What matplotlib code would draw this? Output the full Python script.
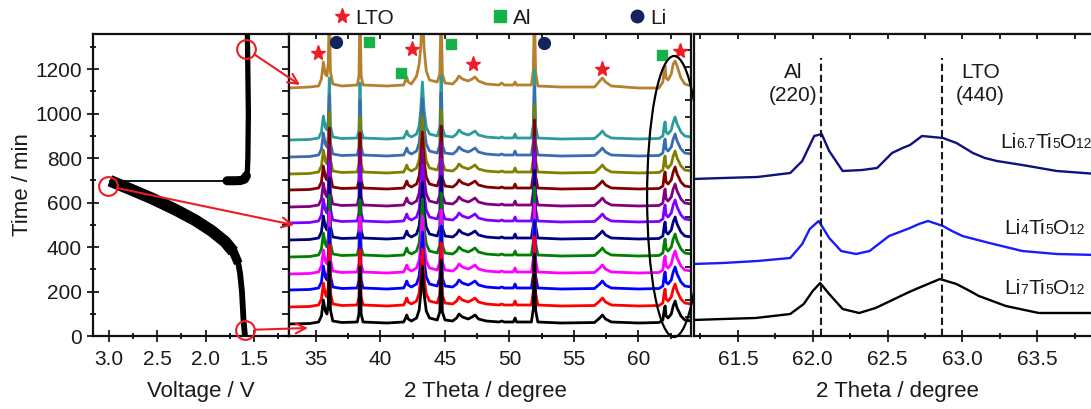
import matplotlib
matplotlib.use('Agg')
import matplotlib.pyplot as plt
from matplotlib.patches import Ellipse, ConnectionPatch
from matplotlib.lines import Line2D
from matplotlib.offsetbox import TextArea, HPacker, AnnotationBbox
from matplotlib.ticker import MultipleLocator, FormatStrFormatter

plt.rcParams['font.family'] = ['Liberation Sans', 'DejaVu Sans']
plt.rcParams['text.color'] = '#1a1a1a'

# ---------------- data: left panel (voltage profile) ----------------
volt_discharge = [1.595, 1.61, 1.626, 1.645, 1.664, 1.715, 1.80, 1.94, 2.11, 2.317, 2.557, 2.80, 2.987]
time_discharge = [0, 72, 199, 280, 327, 379, 424, 473, 521, 569, 619, 664, 698]
volt_relax = [2.987, 1.78]
time_relax = [698, 698]
volt_charge = [1.78, 1.70, 1.64, 1.60, 1.58, 1.57, 1.565, 1.56, 1.57]
time_charge = [698, 698, 699, 705, 720, 745, 800, 1000, 1360]

circle_volt = [1.58, 3.01, 1.59]
circle_time = [1290, 674, 27]
arrow_end_theta = [33.76, 33.29, 34.38]
arrow_end_y = [251, 111, 8]

# ---------------- data: middle panel (XRD patterns) ----------------
theta_pts = [32.9, 34.5, 35.2, 35.42, 35.57, 35.72, 35.85, 35.95, 36.03, 36.12, 36.3, 37.0,
             38.2, 38.33, 38.41, 38.5, 38.65, 40.5, 41.8, 41.95, 42.04, 42.15, 42.4, 42.8,
             43.0, 43.12, 43.25, 43.38, 43.55, 43.8, 44.4, 44.6, 44.7, 44.8, 45.0, 45.6,
             45.9, 46.09, 46.35, 46.8, 47.1, 47.33, 47.6, 48.2, 49.2, 49.4, 49.6, 50.3,
             50.44, 50.55, 51.7, 51.85, 51.94, 52.03, 52.2, 54.0, 56.6, 57.0, 57.21, 57.45,
             57.9, 60.0, 61.6, 61.9, 62.0, 62.07, 62.15, 62.3, 62.55, 62.7, 62.85, 63.0,
             63.3, 63.6, 64.1]
lower_intensity = [0, 0.5, 2, 8, 24, 13, 10, 20, 62, 14, 3, 1.5,
                   2, 10, 57, 10, 2, 1, 2, 6, 9, 5, 3, 6,
                   14, 30, 58, 30, 13, 6, 4, 12, 64, 12, 4, 3,
                   6, 10, 7, 5, 7, 9, 5, 3, 2, 3, 2, 2,
                   6, 2, 2, 15, 70, 14, 2, 1, 1.5, 6, 9, 5,
                   2, 1, 1.5, 4, 14, 18, 8, 6, 10, 18, 23, 16,
                   8, 4, 3]
top_intensity = [0, 1, 2, 9, 26, 14, 12, 25, 80, 16, 4, 2,
                 3, 12, 80, 12, 3, 2, 3, 8, 11, 6, 4, 12,
                 24, 40, 80, 40, 17, 8, 6, 14, 80, 14, 5, 4,
                 8, 12, 9, 7, 9, 11, 7, 4, 3, 5, 3, 3,
                 6, 3, 3, 18, 80, 16, 2, 1, 1, 7, 10, 6,
                 2, 0, 0, 6, 18, 22, 10, 8, 14, 24, 27, 22,
                 10, 4, 2]
lower_offsets = [12, 29, 46, 62, 79, 96, 113, 129, 146, 162, 179, 196]
lower_colors = ['#000000', '#ff0000', '#0000ff', '#ff00ff', '#008000', '#000080',
                '#8000ff', '#800080', '#800000', '#808000', '#3a6db0', '#2b9b9b']
top_offset = 248
top_color = '#b5812e'

lto_theta = [35.13, 42.42, 47.16, 57.21, 63.19]
lto_y = [283, 287, 272, 267, 285]
al_theta = [39.13, 41.57, 45.45, 61.82]
al_y = [294, 263, 292, 281]
li_theta = [36.53, 52.69]
li_y = [294, 293]
legend_labels = ['LTO', 'Al', 'Li']

# ---------------- data: right panel (zoom 61.2-63.9) ----------------
navy_theta = [61.2, 61.4, 61.63, 61.85, 61.93, 62.01, 62.06, 62.11, 62.2, 62.33, 62.43,
              62.53, 62.6, 62.65, 62.73, 62.8, 62.87, 62.96, 63.07, 63.15, 63.23, 63.4, 63.63, 63.9]
navy_y = [157, 158, 159, 163, 175, 200, 202, 185, 165, 166, 168,
          183, 188, 191, 200, 199, 198, 193, 183, 178, 175, 171, 165, 162]
blue_theta = [61.2, 61.4, 61.63, 61.85, 61.93, 61.98, 62.04, 62.11, 62.19, 62.29,
              62.38, 62.51, 62.58, 62.65, 62.71, 62.77, 62.87, 62.93, 63.0, 63.18, 63.4, 63.63, 63.9]
blue_y = [72, 73, 75, 78, 92, 107, 115, 98, 85, 82,
          85, 100, 104, 108, 112, 115, 110, 105, 100, 93, 85, 82, 81]
black_theta = [61.2, 61.4, 61.62, 61.85, 61.94, 62.0, 62.05, 62.11, 62.2, 62.31,
               62.42, 62.56, 62.63, 62.69, 62.77, 62.85, 62.96, 63.05, 63.11, 63.29, 63.51, 63.9]
black_y = [16, 17, 18, 22, 32, 45, 53, 42, 27, 23,
           28, 38, 43, 47, 52, 57, 52, 45, 40, 30, 23, 23]
peak_lines = [62.055, 62.865]
formula_parts = [[('Li', 0), ('6.7', 1), ('Ti', 0), ('5', 1), ('O', 0), ('12', 1)],
                 [('Li', 0), ('4', 1), ('Ti', 0), ('5', 1), ('O', 0), ('12', 1)],
                 [('Li', 0), ('7', 1), ('Ti', 0), ('5', 1), ('O', 0), ('12', 1)]]
formula_x = [63.25, 63.28, 63.28]
formula_y = [194, 107, 47]

RED = '#ee1c24'
GREEN = '#17b14c'
NAVY = '#14235e'
TXT = '#1a1a1a'

W, H = 1091, 409
fig = plt.figure(figsize=(W / 100, H / 100), dpi=100)


def box(x0, x1, ytop, ybot):
    return [x0 / W, 1 - ybot / H, (x1 - x0) / W, (ybot - ytop) / H]


ax1 = fig.add_axes(box(93, 289, 33.5, 336))
ax2 = fig.add_axes(box(289, 691, 33.5, 336))
ax3 = fig.add_axes(box(694, 1100, 33.5, 336))

for ax in (ax1, ax2, ax3):
    for s in ax.spines.values():
        s.set_linewidth(1.6)
        s.set_color('#111111')

# ---------------- left panel ----------------
ax1.plot(volt_discharge, time_discharge, color='black', lw=4.2, solid_capstyle='butt', zorder=3)
ax1.plot(volt_discharge[4:], time_discharge[4:], color='black', lw=6.5, solid_capstyle='butt',
         solid_joinstyle='round', zorder=3)
ax1.plot(volt_discharge[5:], time_discharge[5:], color='black', lw=8.5, solid_capstyle='butt',
         solid_joinstyle='round', zorder=3)
ax1.plot(volt_relax, time_relax, color='black', lw=1.3, zorder=3)
ax1.plot(volt_charge, time_charge, color='black', lw=3.8, zorder=3)
ax1.plot(volt_charge[:5], time_charge[:5], color='black', lw=6.5, solid_capstyle='round',
         solid_joinstyle='round', zorder=3)
ax1.set_xlim(3.162, 1.141)
ax1.set_ylim(0, 1360)
ax1.xaxis.set_major_locator(MultipleLocator(0.5))
ax1.xaxis.set_minor_locator(MultipleLocator(0.25))
ax1.xaxis.set_major_formatter(FormatStrFormatter('%.1f'))
ax1.yaxis.set_major_locator(MultipleLocator(200))
ax1.yaxis.set_minor_locator(MultipleLocator(100))
ax1.tick_params(which='major', direction='inout', length=8, width=1.3, labelsize=15, pad=4, colors=TXT)
ax1.tick_params(which='minor', direction='inout', length=5, width=1.2)
ax1.tick_params(axis='x', which='major', pad=6)
ax1.set_xlabel('Voltage / V', fontsize=16, color=TXT)
ax1.xaxis.set_label_coords(0.551, -0.15)
ax1.set_ylabel('Time / min', fontsize=16, color=TXT)
ax1.yaxis.set_label_coords(-0.305, 0.5)

ax1r = ax1.twinx()
ax1r.set_ylim(0, 1360)
ax1r.yaxis.set_major_locator(MultipleLocator(100))
ax1r.tick_params(direction='in', length=5, width=1.2, labelright=False)
for s in ax1r.spines.values():
    s.set_visible(False)

# ---------------- middle panel ----------------
for off, col in list(zip(lower_offsets, lower_colors))[::-1]:
    ax2.plot(theta_pts, [off + v for v in lower_intensity], color=col, lw=2.0, zorder=2)
ax2.plot(theta_pts, [top_offset + v for v in top_intensity], color=top_color, lw=2.0, zorder=1)
ax2.set_xlim(32.905, 64.08)
ax2.set_ylim(0, 302.5)
ax2.xaxis.set_major_locator(MultipleLocator(5))
ax2.xaxis.set_minor_locator(MultipleLocator(2.5))
ax2.tick_params(axis='x', which='major', direction='inout', length=8.5, width=1.3, labelsize=15, pad=6, colors=TXT)
ax2.tick_params(axis='x', which='minor', direction='inout', length=4.5, width=1.2)
ax2.yaxis.tick_right()
ax2.set_yticks([286, 269, 236, 219, 186, 169, 136, 119, 86, 69, 36, 19])
ax2.tick_params(axis='y', direction='in', length=4, width=1.2, labelright=False)
sec2 = ax2.secondary_xaxis('top')
sec2.xaxis.set_major_locator(MultipleLocator(2.5))
sec2.tick_params(direction='in', length=4, width=1.2, labeltop=False)
ax2.set_xlabel('2 Theta / degree', fontsize=16, color=TXT)
ax2.xaxis.set_label_coords(0.488, -0.15)

ax2.plot(lto_theta, lto_y, ls='none', marker='*', ms=11, color=RED, mec=RED, clip_on=False, zorder=6)
ax2.plot(al_theta, al_y, ls='none', marker='s', ms=7.5, color=GREEN, mec=GREEN, clip_on=False, zorder=6)
ax2.plot(li_theta, li_y, ls='none', marker='o', ms=8.5, color=NAVY, mec=NAVY, clip_on=False, zorder=6)

ell = Ellipse((62.77, 139.5), width=4.19, height=281, fill=False, ec='black', lw=1.6,
              clip_on=False, zorder=7)
ax2.add_patch(ell)

handles = [Line2D([], [], ls='none', marker='*', ms=11, color=RED),
           Line2D([], [], ls='none', marker='s', ms=8, color=GREEN),
           Line2D([], [], ls='none', marker='o', ms=9, color=NAVY)]
fig.legend(handles, legend_labels, loc='center left', bbox_to_anchor=(333.7 / W, 1 - 18 / H),
           ncol=3, frameon=False, fontsize=15, handlelength=0.8, handletextpad=0.25,
           columnspacing=4.65, borderpad=0, borderaxespad=0)

# ---------------- circles & arrows ----------------
for v, t, xe, ye in zip(circle_volt, circle_time, arrow_end_theta, arrow_end_y):
    ax1.plot([v], [t], ls='none', marker='o', ms=13.5, mfc='none', mec=RED, mew=1.5,
             clip_on=False, zorder=8)
    cp = ConnectionPatch(xyA=(v, t), coordsA=ax1.transData, xyB=(xe, ye), coordsB=ax2.transData,
                         arrowstyle='->,head_length=0.6,head_width=0.3', shrinkA=6.8, shrinkB=0,
                         color=RED, lw=1.5, mutation_scale=12, zorder=9)
    fig.add_artist(cp)

# ---------------- right panel ----------------
ax3.plot(navy_theta, navy_y, color='#101080', lw=1.7)
ax3.plot(blue_theta, blue_y, color='#1a1aff', lw=1.7)
ax3.plot(black_theta, black_y, color='black', lw=1.7)
for xv in peak_lines:
    ax3.plot([xv, xv], [0, 278], color='#1a1a1a', lw=1.5, ls=(0, (3.5, 1.8)))
ax3.set_xlim(61.207, 63.919)
ax3.set_ylim(0, 302.5)
ax3.set_yticks([])
ax3.xaxis.set_major_locator(MultipleLocator(0.5))
ax3.xaxis.set_minor_locator(MultipleLocator(0.25))
ax3.xaxis.set_major_formatter(FormatStrFormatter('%.1f'))
ax3.tick_params(axis='x', which='major', direction='inout', length=8.5, width=1.3, labelsize=15, pad=6, colors=TXT)
ax3.tick_params(axis='x', which='minor', direction='inout', length=5, width=1.2)
sec3 = ax3.secondary_xaxis('top')
sec3.xaxis.set_major_locator(MultipleLocator(0.25))
sec3.tick_params(direction='in', length=4, width=1.2, labeltop=False)
ax3.set_xlabel('2 Theta / degree', fontsize=16, color=TXT)
ax3.xaxis.set_label_coords(0.502, -0.15)
ax3.text(61.87, 252, 'Al\n(220)', ha='center', va='center', fontsize=15, linespacing=1.25, color=TXT)
ax3.text(63.12, 252, 'LTO\n(440)', ha='center', va='center', fontsize=15, linespacing=1.25, color=TXT)

for parts, fx, fy in zip(formula_parts, formula_x, formula_y):
    kids = [TextArea(txt, textprops=dict(fontsize=(10 if small else 15), color=TXT))
            for txt, small in parts]
    pack = HPacker(children=kids, align='baseline', pad=0, sep=0)
    ab = AnnotationBbox(pack, (fx, fy), xycoords='data', box_alignment=(0, 0.5),
                        frameon=False, pad=0, annotation_clip=False)
    ax3.add_artist(ab)

fig.savefig('out.png', dpi=100)
